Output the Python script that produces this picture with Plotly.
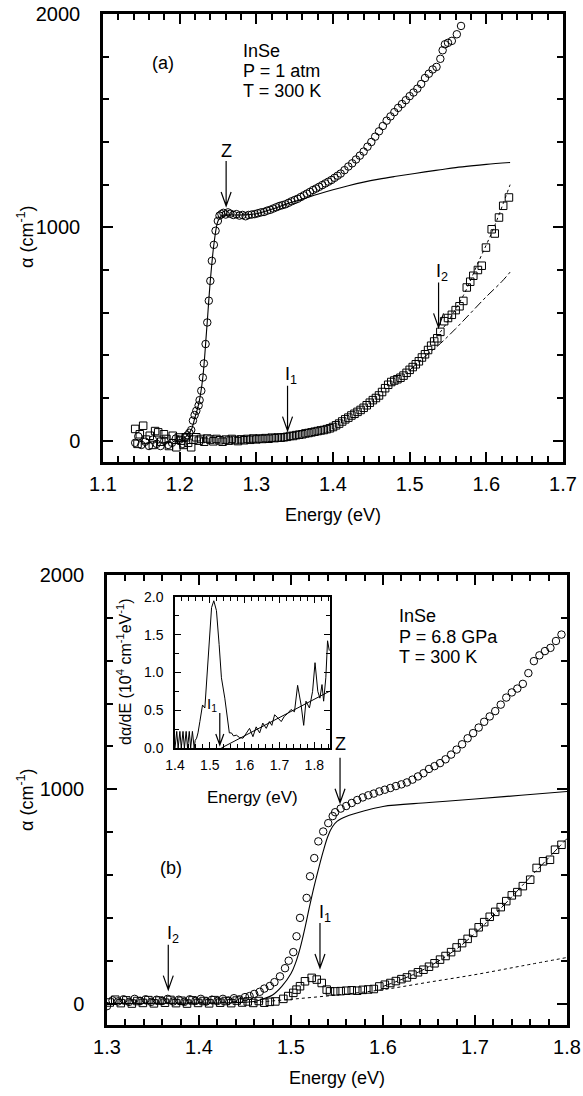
import plotly.graph_objects as go

FONT = "Liberation Sans, Arial, Helvetica, sans-serif"

# ---------------- Panel (a): P = 1 atm ----------------
a_circ_E = [1.142, 1.146, 1.150, 1.155, 1.160, 1.165, 1.170, 1.175, 1.180, 1.185, 1.190, 1.195, 1.200, 1.204,
            1.207, 1.210, 1.2126, 1.2151, 1.2173, 1.2195, 1.2217, 1.2247, 1.226, 1.2282, 1.2302, 1.2316, 1.2338,
            1.236, 1.238, 1.240, 1.242, 1.2446, 1.2468, 1.2498, 1.252, 1.2545, 1.257, 1.260, 1.263, 1.266, 1.270,
            1.274, 1.278, 1.282, 1.286, 1.290, 1.294, 1.298, 1.302, 1.306, 1.310, 1.314, 1.318, 1.322, 1.326,
            1.330, 1.334, 1.338, 1.342, 1.346, 1.350, 1.354, 1.358, 1.362, 1.366, 1.370, 1.374, 1.378, 1.382,
            1.386, 1.390, 1.394, 1.398, 1.402, 1.406, 1.410, 1.415, 1.420, 1.425, 1.430, 1.435, 1.440, 1.445,
            1.450, 1.455, 1.460, 1.465, 1.470, 1.475, 1.480, 1.485, 1.490, 1.495, 1.500, 1.505, 1.510, 1.515,
            1.520, 1.525, 1.530, 1.535, 1.540, 1.543, 1.546, 1.550, 1.555, 1.5615, 1.567]
a_circ_A = [-10, 20, -20, -5, -25, 5, -15, -25, 0, -20, -10, 10, 5, -15,
            15, 25, 37, 50, 94, 120, 140, 165, 190, 234, 296, 362, 453,
            554, 656, 749, 843, 918, 984, 1030, 1055, 1062, 1068, 1060, 1070, 1064, 1058,
            1062, 1055, 1058, 1052, 1058, 1060, 1062, 1066, 1070, 1072, 1078, 1082, 1088, 1094,
            1100, 1104, 1108, 1115, 1122, 1128, 1134, 1142, 1150, 1158, 1166, 1175, 1182, 1190,
            1198, 1206, 1214, 1222, 1232, 1242, 1252, 1268, 1285, 1300, 1318, 1336, 1355, 1378,
            1400, 1425, 1450, 1475, 1500, 1520, 1540, 1560, 1578, 1596, 1615, 1632, 1650, 1672,
            1700, 1720, 1740, 1752, 1790, 1830, 1858, 1865, 1874, 1905, 1944]

a_sq_E = [1.142, 1.145, 1.148, 1.1524, 1.156, 1.161, 1.165, 1.168, 1.172, 1.176, 1.1795, 1.1827, 1.186,
          1.191, 1.1957, 1.199, 1.2022, 1.205, 1.208, 1.211, 1.215, 1.218, 1.2217, 1.225, 1.228, 1.232,
          1.236, 1.240, 1.244, 1.248, 1.252, 1.256, 1.260, 1.264, 1.268, 1.272, 1.276, 1.280, 1.284, 1.288,
          1.292, 1.296, 1.300, 1.304, 1.308, 1.312, 1.316, 1.320, 1.324, 1.328, 1.332, 1.336, 1.340, 1.344,
          1.348, 1.352, 1.356, 1.360, 1.364, 1.368, 1.372, 1.376, 1.380, 1.384, 1.388, 1.392, 1.396, 1.400,
          1.404, 1.408, 1.412, 1.416, 1.420, 1.424, 1.428, 1.432, 1.436, 1.440, 1.444, 1.448, 1.452, 1.456,
          1.460, 1.464, 1.468, 1.472, 1.476, 1.480, 1.484, 1.488, 1.492, 1.496, 1.500, 1.504, 1.508, 1.512,
          1.516, 1.520, 1.524, 1.528, 1.532, 1.536, 1.540, 1.545, 1.550, 1.555, 1.560, 1.565, 1.570, 1.5745,
          1.579, 1.583, 1.589, 1.594, 1.5995, 1.607, 1.611, 1.6165, 1.622, 1.6295]
a_sq_A = [55, -15, 30, 70, 5, 23, -20, 45, 39, -5, 30, 8, -25,
          23, -31, 15, 0, -20, 16, -10, -31, 5, 16, 0, 8, -5,
          10, 5, -3, 8, 2, -5, 5, 0, 8, 3, -2, 6, 2, 8,
          4, 10, 6, 10, 8, 12, 9, 14, 12, 15, 14, 16, 18, 22,
          22, 26, 28, 30, 34, 36, 39, 42, 45, 48, 50, 54, 58, 64,
          72, 80, 90, 100, 108, 118, 126, 135, 144, 154, 166, 178, 190, 200,
          212, 228, 246, 262, 275, 282, 288, 295, 305, 318, 332, 345, 358, 372,
          390, 405, 425, 445, 465, 480, 510, 560, 575, 590, 612, 630, 655, 718,
          745, 773, 800, 820, 905, 991, 971, 1046, 1101, 1140]

a_fit_E = [1.195, 1.200, 1.205, 1.210, 1.215, 1.220, 1.225, 1.230, 1.235, 1.240, 1.245, 1.250, 1.255,
           1.260, 1.280, 1.300, 1.320, 1.340, 1.360, 1.380, 1.400, 1.420, 1.440, 1.460, 1.480, 1.500,
           1.520, 1.540, 1.560, 1.580, 1.600, 1.631]
a_fit_A = [0, 5, 12, 25, 50, 110, 175, 290, 510, 750, 930, 1030, 1055,
           1058, 1058, 1064, 1085, 1110, 1132, 1155, 1176, 1195, 1212, 1226, 1238, 1249,
           1260, 1270, 1280, 1288, 1295, 1304]

a_dot_E = [1.530, 1.550, 1.570, 1.590, 1.610, 1.631]
a_dot_A = [462, 560, 680, 840, 1000, 1200]

a_dd_E = [1.500, 1.520, 1.540, 1.560, 1.580, 1.600, 1.620, 1.631]
a_dd_A = [330, 395, 455, 525, 600, 675, 745, 790]

# ---------------- Panel (b): P = 6.8 GPa ----------------
b_circ_E = [1.300, 1.306, 1.312, 1.318, 1.324, 1.330, 1.336, 1.342, 1.348, 1.354, 1.360, 1.366, 1.372,
            1.378, 1.384, 1.390, 1.396, 1.402, 1.408, 1.414, 1.420, 1.426, 1.432, 1.438, 1.444, 1.450,
            1.455, 1.460, 1.466, 1.471, 1.477, 1.482, 1.488, 1.4935, 1.4975, 1.5025, 1.506, 1.5098, 1.517,
            1.5207, 1.5253, 1.5297, 1.535, 1.5405, 1.5453, 1.548, 1.554, 1.560, 1.566, 1.572, 1.578, 1.584,
            1.590, 1.596, 1.602, 1.608, 1.614, 1.620, 1.626, 1.632, 1.638, 1.644, 1.650, 1.656, 1.662,
            1.668, 1.674, 1.680, 1.686, 1.692, 1.698, 1.704, 1.710, 1.716, 1.722, 1.728, 1.734, 1.740,
            1.746, 1.752, 1.758, 1.764, 1.770, 1.776, 1.782, 1.788, 1.794]
b_circ_A = [-12, 15, 10, 20, 8, 22, 12, 20, 8, 18, 12, 22, 10,
            18, 8, 20, 12, 22, 10, 18, 12, 22, 14, 25, 20, 30,
            35, 45, 55, 70, 82, 100, 127, 165, 200, 240, 314, 400, 493,
            594, 679, 757, 803, 842, 875, 893, 910, 922, 936, 950, 962, 972,
            980, 990, 998, 1006, 1015, 1023, 1032, 1045, 1060, 1075, 1095, 1108, 1122,
            1140, 1162, 1185, 1210, 1238, 1262, 1288, 1315, 1340, 1365, 1395, 1428, 1452,
            1470, 1492, 1542, 1598, 1625, 1645, 1660, 1692, 1722]

b_sq_E = [1.303, 1.309, 1.315, 1.321, 1.327, 1.333, 1.339, 1.345, 1.351, 1.357, 1.363, 1.369, 1.375,
          1.381, 1.387, 1.393, 1.399, 1.405, 1.411, 1.417, 1.423, 1.429, 1.435, 1.441, 1.447, 1.453,
          1.459, 1.465, 1.471, 1.477, 1.483, 1.4917, 1.497, 1.5025, 1.506, 1.5098, 1.5152, 1.5225, 1.528,
          1.5334, 1.5388, 1.5424, 1.548, 1.554, 1.560, 1.566, 1.572, 1.578, 1.584, 1.590, 1.596, 1.602,
          1.608, 1.614, 1.620, 1.626, 1.632, 1.638, 1.644, 1.650, 1.656, 1.662, 1.668, 1.674, 1.680,
          1.686, 1.692, 1.698, 1.704, 1.710, 1.716, 1.722, 1.728, 1.734, 1.740, 1.746, 1.752, 1.760,
          1.767, 1.774, 1.7815, 1.787, 1.794]
b_sq_A = [5, 18, 2, 15, 0, 12, 3, 16, 1, 14, 4, 17, 2,
          13, 0, 15, 3, 12, 1, 16, 4, 12, 2, 14, 5, 10,
          3, 12, 4, 8, 10, 22, 35, 50, 65, 81, 104, 120, 112,
          96, 65, 57, 57, 58, 60, 62, 60, 64, 66, 68, 80, 88,
          96, 105, 114, 122, 135, 146, 158, 172, 188, 205, 222, 240, 262,
          282, 302, 330, 356, 380, 405, 428, 450, 478, 505, 520, 548, 578,
          633, 664, 671, 718, 741]

b_fit_E = [1.300, 1.400, 1.440, 1.460, 1.470, 1.480, 1.490, 1.500, 1.505, 1.510, 1.515, 1.520, 1.525,
           1.530, 1.535, 1.540, 1.545, 1.550, 1.560, 1.580, 1.600, 1.650, 1.700, 1.750, 1.800]
b_fit_A = [0, 2, 5, 10, 22, 40, 80, 140, 190, 260, 350, 450, 545,
           630, 710, 780, 825, 850, 873, 900, 920, 938, 955, 972, 990]

b_dot_E = [1.460, 1.500, 1.550, 1.600, 1.650, 1.700, 1.750, 1.800]
b_dot_A = [5, 20, 40, 65, 100, 135, 175, 215]

b_dd_E = [1.600, 1.640, 1.680, 1.720, 1.760, 1.800]
b_dd_A = [80, 150, 255, 410, 590, 770]

# ---------------- Inset: derivative ----------------
ins_E = [1.400, 1.405, 1.409, 1.414, 1.418, 1.423, 1.427, 1.432, 1.436, 1.441, 1.445, 1.450, 1.455,
         1.458, 1.462, 1.466, 1.4714, 1.475, 1.479, 1.4857, 1.4905, 1.495, 1.500, 1.505, 1.5114, 1.519,
         1.5267, 1.5333, 1.543, 1.5476, 1.5524, 1.556, 1.562, 1.568, 1.5762, 1.585, 1.5952, 1.605,
         1.614, 1.6238, 1.633, 1.643, 1.652, 1.662, 1.671, 1.678, 1.686, 1.695, 1.705, 1.714, 1.724,
         1.733, 1.743, 1.752, 1.762, 1.7695, 1.776, 1.786, 1.795, 1.802, 1.810, 1.816, 1.822, 1.8267,
         1.833, 1.838, 1.843]
ins_D = [0.0, 0.22, 0.0, 0.22, 0.0, 0.22, 0.0, 0.22, 0.0, 0.22, 0.0, 0.22, 0.0,
         0.10, 0.13, 0.20, 0.35, 0.45, 0.57, 0.53, 0.84, 1.10, 1.50, 1.86, 1.95, 1.82,
         1.37, 0.93, 0.66, 0.48, 0.26, 0.20, 0.20, 0.16, 0.17, 0.14, 0.13, 0.20,
         0.26, 0.15, 0.28, 0.20, 0.33, 0.26, 0.35, 0.30, 0.44, 0.40, 0.35, 0.42, 0.46,
         0.51, 0.48, 0.83, 0.57, 0.30, 0.62, 0.53, 0.75, 1.13, 0.75, 0.66, 0.84, 0.62,
         0.93, 1.42, 1.29]
ins_line_E = [1.533, 1.843]
ins_line_D = [0.0, 0.75]

fig = go.Figure()

def circ(x, y, xa, ya):
    return go.Scatter(x=x, y=y, mode="markers", xaxis=xa, yaxis=ya,
                      marker=dict(symbol="circle-open", size=7.5, color="black", line=dict(width=1)))

def sq(x, y, xa, ya):
    return go.Scatter(x=x, y=y, mode="markers", xaxis=xa, yaxis=ya,
                      marker=dict(symbol="square-open", size=7.5, color="black", line=dict(width=1)))

def ln(x, y, xa, ya, dash="solid", w=1.1):
    return go.Scatter(x=x, y=y, mode="lines", xaxis=xa, yaxis=ya,
                      line=dict(color="black", width=w, dash=dash, shape="spline"))

# panel a
fig.add_trace(ln(a_fit_E, a_fit_A, "x", "y"))
fig.add_trace(ln(a_dot_E, a_dot_A, "x", "y", "dot", 1))
fig.add_trace(ln(a_dd_E, a_dd_A, "x", "y", "dashdot", 1))
fig.add_trace(sq(a_sq_E, a_sq_A, "x", "y"))
fig.add_trace(circ(a_circ_E, a_circ_A, "x", "y"))
# panel b
fig.add_trace(ln(b_fit_E, b_fit_A, "x2", "y2"))
fig.add_trace(ln(b_dot_E, b_dot_A, "x2", "y2", "dot", 1))
fig.add_trace(ln(b_dd_E, b_dd_A, "x2", "y2", "dashdot", 1))
fig.add_trace(sq(b_sq_E, b_sq_A, "x2", "y2"))
fig.add_trace(circ(b_circ_E, b_circ_A, "x2", "y2"))
# inset
fig.add_trace(go.Scatter(x=ins_E, y=ins_D, mode="lines", xaxis="x3", yaxis="y3",
                         line=dict(color="black", width=1)))
fig.add_trace(go.Scatter(x=ins_line_E, y=ins_line_D, mode="lines", xaxis="x3", yaxis="y3",
                         line=dict(color="black", width=1)))

# the page's body margin is removed by a post script, so the figure fills the window
OFF = 0
W, H = 583, 1096

def px(x):
    return (x - OFF) / W

def py(y):
    return 1 - (y - OFF) / H

def dom_x(l, r):
    return [px(l), px(r)]

def dom_y(top, bot):
    return [py(bot), py(top)]

def axis(domain, rng, anchor, dtick, mdtick, fmt, size, lw, tl, mtl, standoff):
    tw = 2 if lw > 2 else 1
    return dict(domain=domain, range=rng, anchor=anchor, showgrid=False, zeroline=False,
                automargin=False, ticklabeloverflow="allow",
                showline=True, linecolor="black", linewidth=lw, mirror="ticks",
                ticks="inside", ticklen=tl, tickwidth=tw, tickcolor="black",
                dtick=dtick, tick0=0, tickformat=fmt,
                tickfont=dict(family=FONT, size=size, color="black"),
                minor=dict(dtick=mdtick, ticks="inside", ticklen=mtl, tickwidth=tw,
                           tickcolor="black", showgrid=False),
                ticklabelstandoff=standoff)

fig.update_layout(
    width=W, height=H, margin=dict(l=0, r=0, t=0, b=0, autoexpand=False),
    paper_bgcolor="white", plot_bgcolor="white", showlegend=False,
    font=dict(family=FONT, size=18, color="black"),
    xaxis=axis(dom_x(103, 563), [1.1, 1.7], "y", 0.1, 0.02, ".1f", 20, 2.5, 10, 6, 2),
    yaxis=axis(dom_y(14, 462), [-100, 2000], "x", 1000, 200, "d", 20, 2.5, 10, 6, 16),
    xaxis2=axis(dom_x(107, 567), [1.3, 1.8], "y2", 0.1, 0.02, ".1f", 20, 2.5, 10, 6, 2),
    yaxis2=axis(dom_y(575, 1025), [-100, 2000], "x2", 1000, 200, "d", 20, 2.5, 10, 6, 16),
    xaxis3=axis(dom_x(175, 330), [1.4, 1.845], "y3", 0.1, 0.02, ".1f", 14, 1.5, 6, 4, 3),
    yaxis3=axis(dom_y(597, 748), [0, 2.0], "x3", 0.5, 0.25, ".1f", 14, 1.5, 6, 4, 7),
)

anns = []
def txt(x, y, s, xref, yref, xanchor="center", size=18, **kw):
    anns.append(dict(x=x, y=y, text=s, xref=xref, yref=yref, showarrow=False, xanchor=xanchor,
                     yanchor="middle", font=dict(family=FONT, size=size, color="black"), **kw))

# axis titles
txt(px(333), py(515), "Energy (eV)", "paper", "paper")
txt(px(337), py(1078), "Energy (eV)", "paper", "paper")
txt(px(25), py(237), "α (cm<sup>-1</sup>)", "paper", "paper", textangle=-90)
txt(px(25), py(800), "α (cm<sup>-1</sup>)", "paper", "paper", textangle=-90)
txt(px(252), py(797), "Energy (eV)", "paper", "paper", size=17)
txt(px(124), py(672), "dα/dE (10<sup>4</sup> cm<sup>-1</sup>eV<sup>-1</sup>)", "paper", "paper",
    size=16, textangle=-90)

# panel texts
txt(1.178, 1772, "(a)", "x", "y")
txt(1.2805, 1827, "InSe", "x", "y", xanchor="left")
txt(1.2805, 1733, "P = 1 atm", "x", "y", xanchor="left")
txt(1.2805, 1639, "T = 300 K", "x", "y", xanchor="left")
txt(1.370, 633, "(b)", "x2", "y2")
txt(1.615, 1809, "InSe", "x2", "y2", xanchor="left")
txt(1.615, 1711, "P = 6.8 GPa", "x2", "y2", xanchor="left")
txt(1.615, 1618, "T = 300 K", "x2", "y2", xanchor="left")

shapes = []
def arrow(x, y, xref, yref, label, L=45, hw=5, hh=14, lab_dx=0, lab_gap=10, size=18):
    shapes.append(dict(type="path", xref=xref, yref=yref, xsizemode="pixel", ysizemode="pixel",
                       xanchor=x, yanchor=y,
                       path=f"M0,{L} L0,0 M{-hw},{hh} L0,0 L{hw},{hh}",
                       line=dict(color="black", width=1.2)))
    txt(x, y, label, xref, yref, size=size, yshift=L + lab_gap, xshift=lab_dx)

arrow(1.2606, 1100, "x", "y", "Z")
arrow(1.3407, 47, "x", "y", "I<sub>1</sub>", lab_dx=3)
arrow(1.5377, 531, "x", "y", "I<sub>2</sub>", lab_dx=3)
arrow(1.5533, 937, "x2", "y2", "Z", lab_gap=14)
arrow(1.5315, 166, "x2", "y2", "I<sub>1</sub>", lab_dx=5)
arrow(1.3666, 65, "x2", "y2", "I<sub>2</sub>", lab_dx=5)
arrow(1.5286, 0.04, "x3", "y3", "I<sub>1</sub>", L=32, hw=4, hh=11, lab_dx=-8, lab_gap=8, size=15)

fig.update_layout(annotations=anns, shapes=shapes)
fig.write_html("out.html", config={"displayModeBar": False},
               post_script="document.body.style.margin='0';document.body.style.overflow='hidden';")
